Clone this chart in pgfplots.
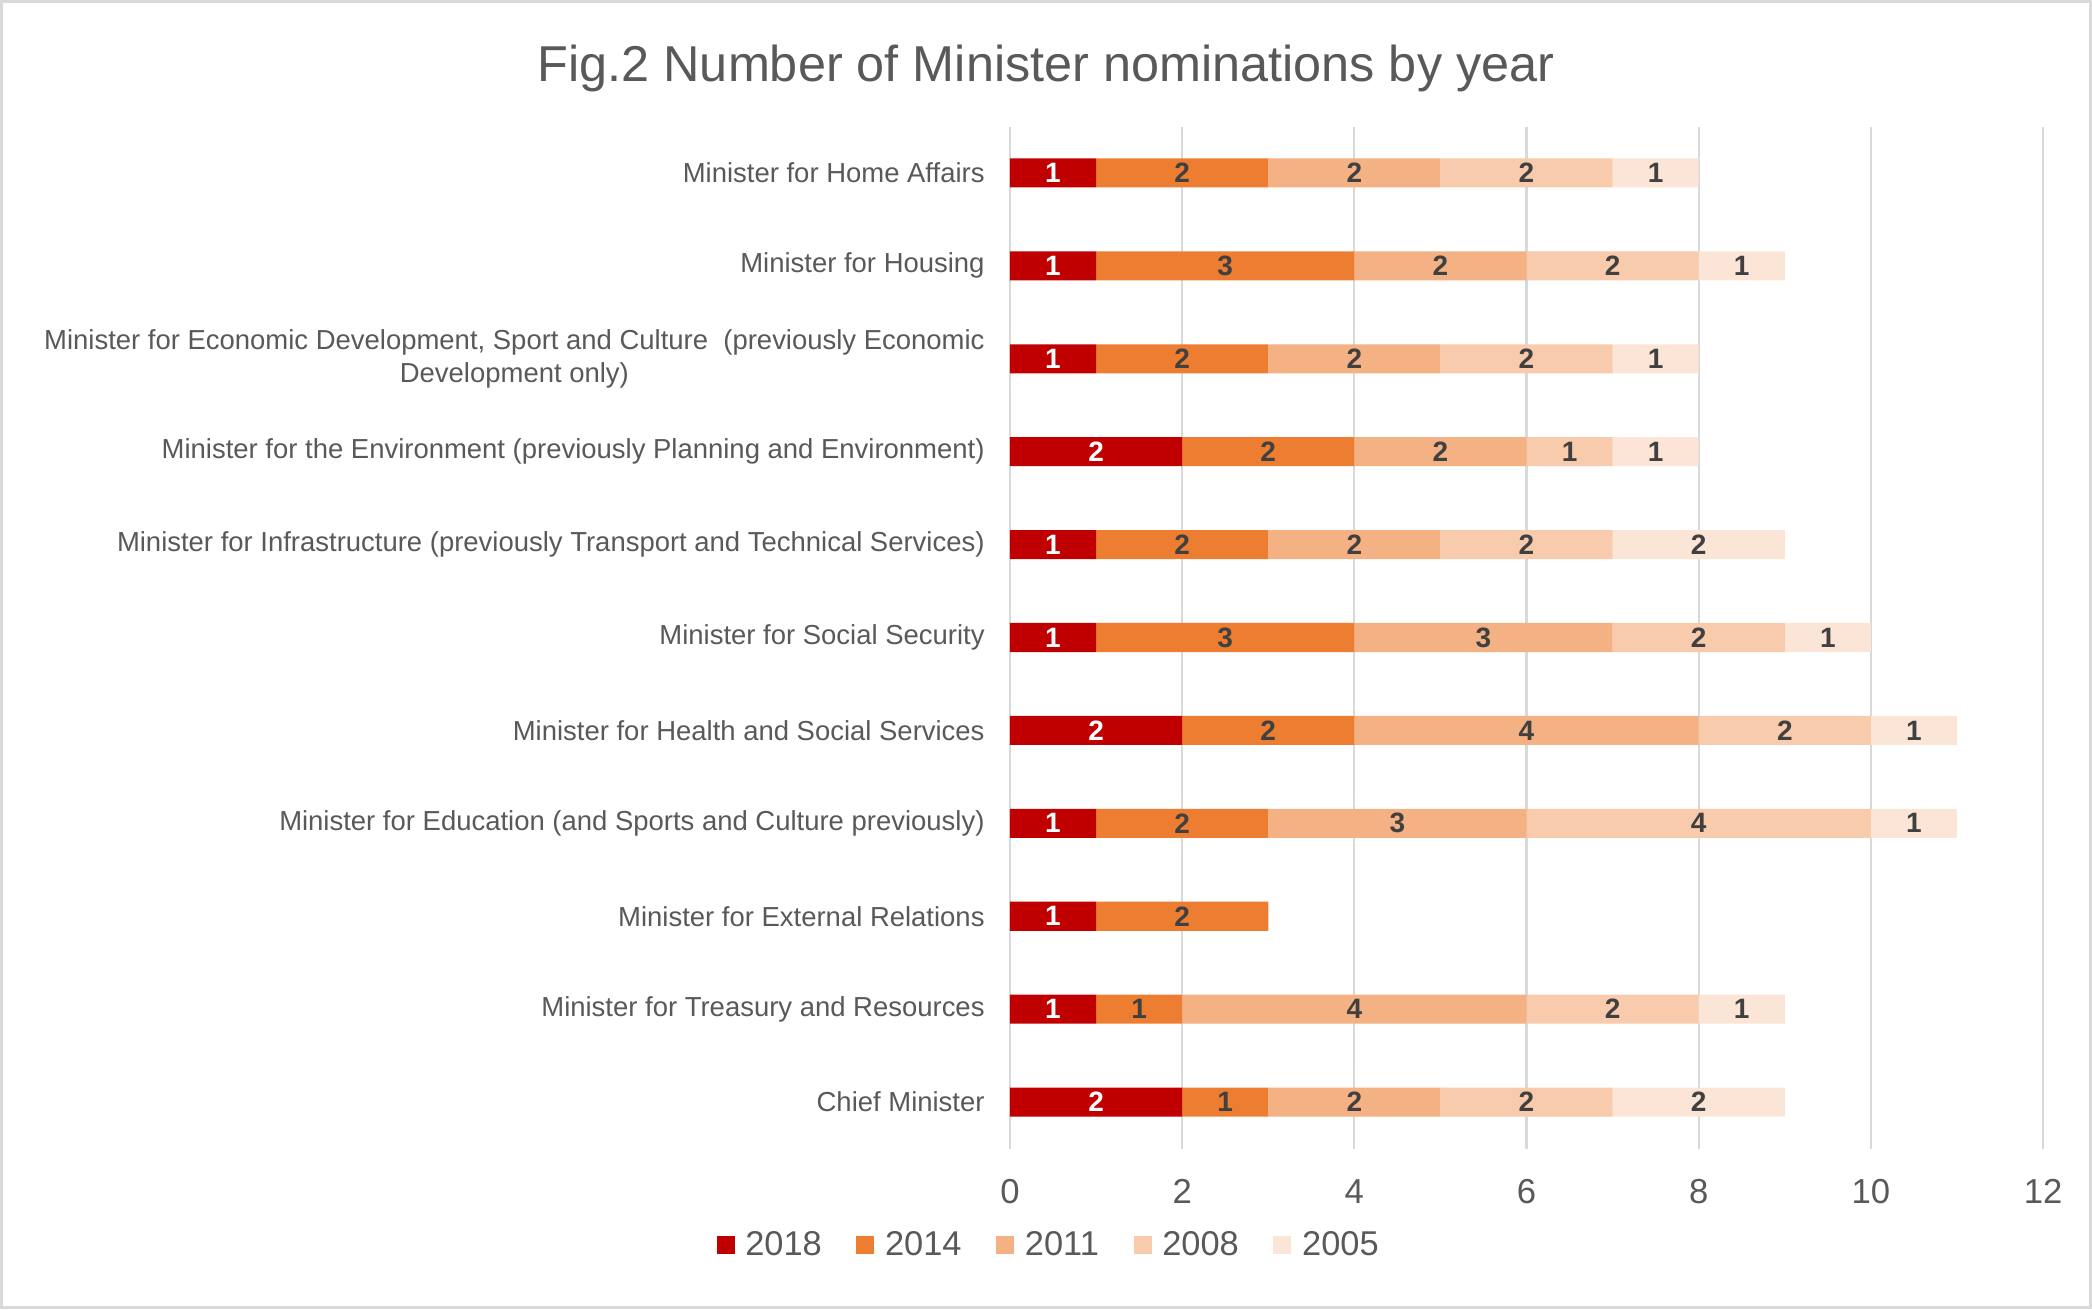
\documentclass[border=0pt]{standalone}
\usepackage{fontspec}
\setmainfont{Liberation Sans}
\usepackage{pgfplots}
\pgfplotsset{compat=1.18}
\usepackage{pgfplotstable}

\definecolor{c18}{HTML}{C00000}
\definecolor{c14}{HTML}{ED7D31}
\definecolor{c11}{HTML}{F4B183}
\definecolor{c08}{HTML}{F8CBAD}
\definecolor{c05}{HTML}{FBE5D6}
\definecolor{txt}{HTML}{595959}
\definecolor{gridc}{HTML}{D9D9D9}
\definecolor{lab}{HTML}{404040}

\pgfplotstableread{
y a b c d e
0 2 1 2 2 2
1 1 1 4 2 1
2 1 2 0 0 0
3 1 2 3 4 1
4 2 2 4 2 1
5 1 3 3 2 1
6 1 2 2 2 2
7 2 2 2 1 1
8 1 2 2 2 1
9 1 3 2 2 1
10 1 2 2 2 1
}\data

\begin{document}
\begin{tikzpicture}
\useasboundingbox (-378.75pt,-60.19pt) rectangle (405.75pt,430.69pt);
\fill[white] (-378.75pt,-60.19pt) rectangle (405.75pt,430.69pt);
\draw[gridc, line width=1.125pt] (-378.19pt,-59.63pt) rectangle (405.19pt,430.13pt);
\begin{axis}[
  at={(0pt,0pt)}, anchor=south west,
  scale only axis, width=387.4pt, height=383.25pt,
  xbar stacked, bar width=10.9pt,
  xmin=0, xmax=12, ymin=-0.5, ymax=10.5,
  xtick={0,2,...,12}, ytick={0,...,10},
  yticklabels={
    {Chief Minister},
    {Minister for Treasury and Resources},
    {Minister for External Relations},
    {Minister for Education (and Sports and Culture previously)},
    {Minister for Health and Social Services},
    {Minister for Social Security},
    {Minister for Infrastructure (previously Transport and Technical Services)},
    {Minister for the Environment (previously Planning and Environment)},
    {Minister for Economic Development, Sport and Culture\ \ (previously Economic\\Development only)},
    {Minister for Housing},
    {Minister for Home Affairs}},
  xmajorgrids, ymajorgrids=false,
  major grid style={draw=gridc, line width=0.8pt},
  axis line style={draw=none},
  major tick length=0pt, tick style={draw=none},
  /pgf/number format/assume math mode=true,
  xticklabel style={font=\fontsize{13}{15}\selectfont, text=txt, yshift=-8pt},
  yticklabel style={font=\fontsize{10.3}{12.2}\selectfont, text=txt, align=center, xshift=-6pt},
  nodes near coords={\ifdim\segval pt>0pt\pgfmathprintnumber{\segval}\fi},
  every node near coord/.append style={anchor=center, font=\bfseries\fontsize{10.5}{12}\selectfont, text=lab},
  legend columns=5,
  legend style={at={(0.0416,-0.0944)}, anchor=center, draw=none, fill=none,
    font=\fontsize{12.9}{15}\selectfont, text=txt,
    /tikz/every even column/.append style={column sep=9pt},
    nodes={inner xsep=4pt, inner ysep=2pt}},
  legend image code/.code={\fill[#1] (0pt,-3.375pt) rectangle (6.75pt,3.375pt);},
]
\addplot[fill=c18, draw=none, visualization depends on={\thisrow{a}\as\segval},
  every node near coord/.append style={text=white}] table[x=a,y=y]{\data};
\addlegendentry{2018}
\addplot[fill=c14, draw=none, visualization depends on={\thisrow{b}\as\segval}] table[x=b,y=y]{\data};
\addlegendentry{2014}
\addplot[fill=c11, draw=none, visualization depends on={\thisrow{c}\as\segval}] table[x=c,y=y]{\data};
\addlegendentry{2011}
\addplot[fill=c08, draw=none, visualization depends on={\thisrow{d}\as\segval}] table[x=d,y=y]{\data};
\addlegendentry{2008}
\addplot[fill=c05, draw=none, visualization depends on={\thisrow{e}\as\segval}] table[x=e,y=y]{\data};
\addlegendentry{2005}
\end{axis}
\node[font=\fontsize{18.9}{22}\selectfont, text=txt] at (13.5pt,405.2pt) {Fig.2 Number of Minister nominations by year};
\end{tikzpicture}
\end{document}
